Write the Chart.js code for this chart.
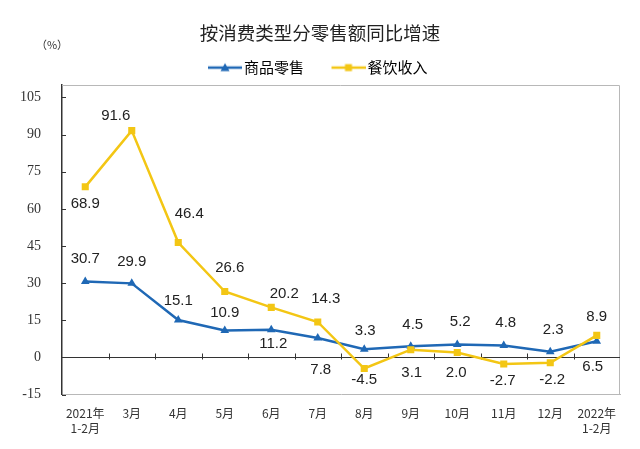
<!DOCTYPE html>
<html>
<head>
<meta charset="utf-8">
<script src="https://cdn.jsdelivr.net/npm/chart.js@4/dist/chart.umd.min.js"></script>
<style>
  html, body { margin: 0; padding: 0; background: #fff; }
  #wrap { width: 640px; height: 449px; }
</style>
</head>
<body>
<div id="wrap"><canvas id="growth-chart"></canvas></div>
<script>
const months = [["2021年", "1-2月"], "3月", "4月", "5月", "6月", "7月", "8月", "9月", "10月", "11月", "12月", ["2022年", "1-2月"]];
const retailGoods = [30.7, 29.9, 15.1, 10.9, 11.2, 7.8, 3.3, 4.5, 5.2, 4.8, 2.3, 6.5];
const catering = [68.9, 91.6, 46.4, 26.6, 20.2, 14.3, -4.5, 3.1, 2.0, -2.7, -2.2, 8.9];
const yTicks = [-15, 0, 15, 30, 45, 60, 75, 90, 105];

// where each value label sits relative to its point (px)
const goodsLabelShift = [[0, -23], [0, -22], [0, -19], [0, -18], [2, 14], [3, 32], [1, -18], [2, -21], [3, -23], [2, -23], [3, -22], [-4, 26]];
const cateringLabelShift = [[0, 17], [-16, -15], [11, -29], [5, -24], [13, -14], [8, -23], [0, 11], [1, 23], [-1, 20], [-1, 17], [2, 17], [0, -18]];

const BLUE = "#1f68b5";
const YELLOW = "#f3c614";

Chart.defaults.font.family = '"Noto Sans CJK SC", "Noto Sans", sans-serif';
Chart.defaults.color = "#333";

function legendMark(color, shape) {
    const c = document.createElement("canvas");
    c.width = 59;
    c.height = 12;
    const g = c.getContext("2d");
    g.strokeStyle = color;
    g.lineWidth = 2.5;
    g.beginPath();
    g.moveTo(25, 6);
    g.lineTo(59, 6);
    g.stroke();
    g.fillStyle = color;
    if (shape === "triangle") {
        g.beginPath();
        g.moveTo(42, 1.5);
        g.lineTo(46.5, 9.5);
        g.lineTo(37.5, 9.5);
        g.closePath();
        g.fill();
    } else {
        g.fillRect(38.5, 2.5, 7, 7);
    }
    return c;
}

const frame = {
    id: "frame",
    afterLayout(chart) {
        // pull the legend a bit left so the two entries sit centred
        chart.legend.left -= 12;
        chart.legend.right -= 12;
    },
    beforeDatasetsDraw(chart) {
        const { ctx, chartArea: a, scales: { x, y } } = chart;
        ctx.save();
        ctx.lineWidth = 1;
        ctx.strokeStyle = "#b8b8b8";
        ctx.beginPath();
        ctx.moveTo(a.left, Math.round(a.top) + 0.5);
        ctx.lineTo(Math.round(a.right) - 0.5, Math.round(a.top) + 0.5);
        ctx.lineTo(Math.round(a.right) - 0.5, a.bottom);
        ctx.stroke();

        const y0 = Math.round(y.getPixelForValue(0)) + 0.5;
        ctx.strokeStyle = "#333";
        ctx.beginPath();
        ctx.moveTo(a.left, y0);
        ctx.lineTo(a.right, y0);
        for (let i = 1; i < months.length; i++) {
            const xb = Math.round((x.getPixelForValue(i - 1) + x.getPixelForValue(i)) / 2) + 0.5;
            ctx.moveTo(xb, y0 - 4);
            ctx.lineTo(xb, y0 + 2);
        }
        yTicks.forEach(v => {
            const yy = Math.round(y.getPixelForValue(v)) + 0.5;
            ctx.moveTo(a.left, yy);
            ctx.lineTo(a.left + 4, yy);
        });
        ctx.stroke();

        ctx.fillStyle = "#333";
        ctx.font = '11px "Noto Sans CJK SC"';
        ctx.textAlign = "center";
        ctx.textBaseline = "middle";
        ctx.fillText("（%）", 52, 45);
        ctx.restore();
    }
};

const valueLabels = {
    id: "valueLabels",
    afterDatasetsDraw(chart) {
        const ctx = chart.ctx;
        ctx.save();
        ctx.font = '15px "Liberation Sans", Arial, sans-serif';
        ctx.fillStyle = "#222";
        ctx.textAlign = "center";
        ctx.textBaseline = "middle";
        chart.data.datasets.forEach((ds, di) => {
            const meta = chart.getDatasetMeta(di);
            meta.data.forEach((pt, i) => {
                const [dx, dy] = ds.labelShift[i];
                ctx.fillText(ds.data[i].toFixed(1), pt.x + dx, pt.y + dy);
            });
        });
        ctx.restore();
    }
};

const ctx = document.getElementById("growth-chart").getContext("2d");

new Chart(ctx, {
    type: "line",
    data: {
        labels: months,
        datasets: [
            {
                label: "商品零售",
                data: retailGoods,
                labelShift: goodsLabelShift,
                borderColor: BLUE,
                backgroundColor: BLUE,
                borderWidth: 2.5,
                pointStyle: "triangle",
                pointRadius: 5,
                pointBorderWidth: 0,
                tension: 0,
                order: 1
            },
            {
                label: "餐饮收入",
                data: catering,
                labelShift: cateringLabelShift,
                borderColor: YELLOW,
                backgroundColor: YELLOW,
                borderWidth: 2.5,
                pointStyle: "rect",
                pointRadius: 5,
                pointBorderWidth: 0,
                tension: 0,
                order: 0
            }
        ]
    },
    options: {
        responsive: true,
        maintainAspectRatio: false,
        animation: false,
        layout: { padding: { top: -2.5, left: 0, right: 0, bottom: 0 } },
        plugins: {
            tooltip: { enabled: false },
            title: {
                display: true,
                text: "按消费类型分零售额同比增速",
                color: "#222",
                font: { size: 18.5, weight: "normal" },
                padding: { top: 24.7, bottom: 7.7 }
            },
            legend: {
                display: true,
                labels: {
                    usePointStyle: true,
                    pointStyleWidth: 48,
                    padding: 8,
                    color: "#333",
                    font: { size: 15 },
                    generateLabels: () => [
                        { text: "商品零售", pointStyle: legendMark(BLUE, "triangle"), fillStyle: BLUE, strokeStyle: BLUE, lineWidth: 0, datasetIndex: 0, hidden: false },
                        { text: "餐饮收入", pointStyle: legendMark(YELLOW, "rect"), fillStyle: YELLOW, strokeStyle: YELLOW, lineWidth: 0, datasetIndex: 1, hidden: false }
                    ]
                }
            }
        },
        scales: {
            x: {
                offset: true,
                grid: { display: false, drawTicks: false },
                border: { display: true, color: "#b8b8b8", width: 1 },
                ticks: {
                    autoSkip: false,
                    maxRotation: 0,
                    padding: 12,
                    color: "#333",
                    font: { size: 12 }
                },
                afterFit: s => { s.height = 54.5; }
            },
            y: {
                min: -15,
                max: 110,
                grid: { display: false, drawTicks: false },
                border: { display: true, color: "#333", width: 1.5 },
                ticks: {
                    padding: 21,
                    color: "#333",
                    font: { family: '"Liberation Serif", serif', size: 14 }
                },
                afterBuildTicks: s => { s.ticks = yTicks.map(v => ({ value: v })); },
                afterFit: s => { s.width = 62; }
            },
            yRight: {
                position: "right",
                grid: { display: false, drawTicks: false },
                border: { display: false },
                ticks: { display: false },
                afterFit: s => { s.width = 20; }
            }
        }
    },
    plugins: [frame, valueLabels]
});
</script>
</body>
</html>
